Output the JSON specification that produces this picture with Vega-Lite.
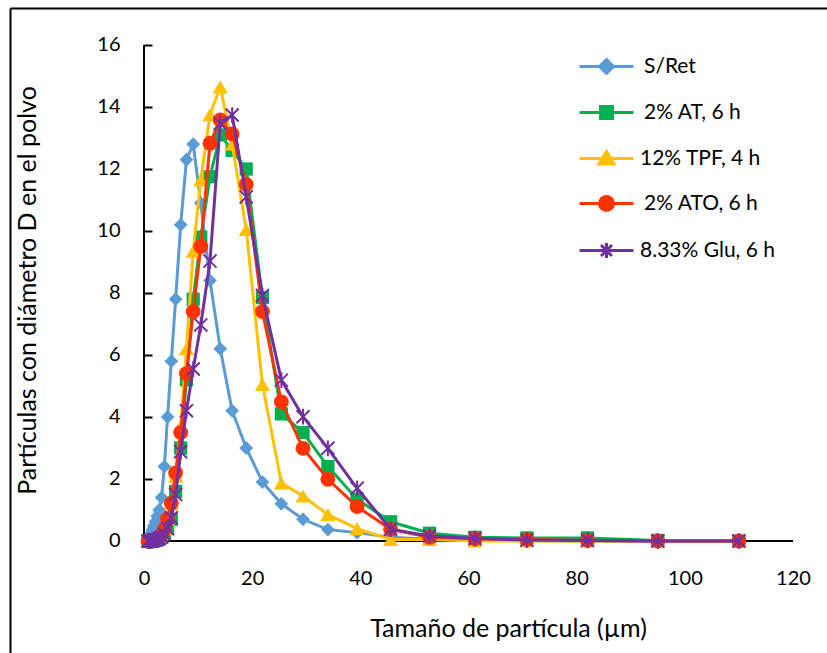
{
  "$schema": "https://vega.github.io/schema/vega-lite/v6.json",
  "width": 817,
  "height": 645,
  "autosize": {"type": "none"},
  "padding": {"left": 10, "top": 8, "right": 0, "bottom": 0},
  "background": "white",
  "config": {"view": {"stroke": null}, "font": "Lato", "axis": {"grid": false}},
  "datasets": {
    "axes": [{"x0": 0, "x1": 120, "y0": 0, "y1": 16}],
    "sret": [
      {"x": 0.75, "y": 0.02}, {"x": 0.87, "y": 0.05}, {"x": 1.0, "y": 0.1}, {"x": 1.16, "y": 0.17}, {"x": 1.35, "y": 0.26},
      {"x": 1.56, "y": 0.36}, {"x": 1.81, "y": 0.48}, {"x": 2.1, "y": 0.62}, {"x": 2.43, "y": 0.8}, {"x": 2.81, "y": 1.0},
      {"x": 3.25, "y": 1.4}, {"x": 3.77, "y": 2.4}, {"x": 4.36, "y": 4.0}, {"x": 5.05, "y": 5.8}, {"x": 5.85, "y": 7.8},
      {"x": 6.78, "y": 10.2}, {"x": 7.85, "y": 12.3}, {"x": 9.1, "y": 12.8}, {"x": 10.5, "y": 10.9}, {"x": 12.2, "y": 8.4},
      {"x": 14.1, "y": 6.2}, {"x": 16.3, "y": 4.2}, {"x": 18.9, "y": 3.0}, {"x": 21.9, "y": 1.9}, {"x": 25.4, "y": 1.2},
      {"x": 29.4, "y": 0.7}, {"x": 34.0, "y": 0.37}, {"x": 39.4, "y": 0.27}, {"x": 45.6, "y": 0.12}, {"x": 52.8, "y": 0.06},
      {"x": 61.2, "y": 0.03}, {"x": 70.8, "y": 0.01}, {"x": 82.0, "y": 0}, {"x": 95.0, "y": 0}, {"x": 110.0, "y": 0}
    ],
    "at": [
      {"x": 0.75, "y": 0}, {"x": 0.87, "y": 0}, {"x": 1.0, "y": 0}, {"x": 1.16, "y": 0}, {"x": 1.35, "y": 0},
      {"x": 1.56, "y": 0}, {"x": 1.81, "y": 0.01}, {"x": 2.1, "y": 0.02}, {"x": 2.43, "y": 0.04}, {"x": 2.81, "y": 0.07},
      {"x": 3.25, "y": 0.12}, {"x": 3.77, "y": 0.22}, {"x": 4.36, "y": 0.4}, {"x": 5.05, "y": 0.7}, {"x": 5.85, "y": 1.6},
      {"x": 6.78, "y": 3.0}, {"x": 7.85, "y": 5.2}, {"x": 9.1, "y": 7.8}, {"x": 10.5, "y": 9.8}, {"x": 12.2, "y": 11.75},
      {"x": 14.1, "y": 13.1}, {"x": 16.3, "y": 12.6}, {"x": 18.9, "y": 12.0}, {"x": 21.9, "y": 7.85}, {"x": 25.4, "y": 4.1},
      {"x": 29.4, "y": 3.5}, {"x": 34.0, "y": 2.4}, {"x": 39.4, "y": 1.35}, {"x": 45.6, "y": 0.62}, {"x": 52.8, "y": 0.25},
      {"x": 61.2, "y": 0.12}, {"x": 70.8, "y": 0.1}, {"x": 82.0, "y": 0.1}, {"x": 95.0, "y": 0.02}, {"x": 110.0, "y": 0}
    ],
    "tpf": [
      {"x": 0.75, "y": 0}, {"x": 0.87, "y": 0}, {"x": 1.0, "y": 0}, {"x": 1.16, "y": 0}, {"x": 1.35, "y": 0.01},
      {"x": 1.56, "y": 0.02}, {"x": 1.81, "y": 0.04}, {"x": 2.1, "y": 0.06}, {"x": 2.43, "y": 0.1}, {"x": 2.81, "y": 0.15},
      {"x": 3.25, "y": 0.25}, {"x": 3.77, "y": 0.4}, {"x": 4.36, "y": 0.7}, {"x": 5.05, "y": 1.2}, {"x": 5.85, "y": 2.1},
      {"x": 6.78, "y": 3.7}, {"x": 7.85, "y": 6.2}, {"x": 9.1, "y": 9.35}, {"x": 10.5, "y": 11.65}, {"x": 12.2, "y": 13.75},
      {"x": 14.1, "y": 14.65}, {"x": 16.3, "y": 12.8}, {"x": 18.9, "y": 10.05}, {"x": 21.9, "y": 5.05}, {"x": 25.4, "y": 1.87},
      {"x": 29.4, "y": 1.45}, {"x": 34.0, "y": 0.85}, {"x": 39.4, "y": 0.4}, {"x": 45.6, "y": 0.05}, {"x": 52.8, "y": 0.05},
      {"x": 61.2, "y": 0}, {"x": 70.8, "y": 0}, {"x": 82.0, "y": 0}, {"x": 95.0, "y": 0}, {"x": 110.0, "y": 0}
    ],
    "ato": [
      {"x": 0.75, "y": 0}, {"x": 0.87, "y": 0}, {"x": 1.0, "y": 0}, {"x": 1.16, "y": 0}, {"x": 1.35, "y": 0.01},
      {"x": 1.56, "y": 0.02}, {"x": 1.81, "y": 0.03}, {"x": 2.1, "y": 0.05}, {"x": 2.43, "y": 0.08}, {"x": 2.81, "y": 0.12},
      {"x": 3.25, "y": 0.2}, {"x": 3.77, "y": 0.38}, {"x": 4.36, "y": 0.72}, {"x": 5.05, "y": 1.22}, {"x": 5.85, "y": 2.2},
      {"x": 6.78, "y": 3.5}, {"x": 7.85, "y": 5.4}, {"x": 9.1, "y": 7.4}, {"x": 10.5, "y": 9.5}, {"x": 12.2, "y": 12.83},
      {"x": 14.1, "y": 13.58}, {"x": 16.3, "y": 13.13}, {"x": 18.9, "y": 11.5}, {"x": 21.9, "y": 7.4}, {"x": 25.4, "y": 4.49},
      {"x": 29.4, "y": 2.99}, {"x": 34.0, "y": 1.99}, {"x": 39.4, "y": 1.11}, {"x": 45.6, "y": 0.38}, {"x": 52.8, "y": 0.12},
      {"x": 61.2, "y": 0.07}, {"x": 70.8, "y": 0.05}, {"x": 82.0, "y": 0.02}, {"x": 95.0, "y": 0}, {"x": 110.0, "y": 0}
    ],
    "glu": [
      {"x": 0.75, "y": 0}, {"x": 0.87, "y": 0}, {"x": 1.0, "y": 0}, {"x": 1.16, "y": 0}, {"x": 1.35, "y": 0},
      {"x": 1.56, "y": 0.01}, {"x": 1.81, "y": 0.02}, {"x": 2.1, "y": 0.03}, {"x": 2.43, "y": 0.05}, {"x": 2.81, "y": 0.08},
      {"x": 3.25, "y": 0.13}, {"x": 3.77, "y": 0.22}, {"x": 4.36, "y": 0.4}, {"x": 5.05, "y": 0.75}, {"x": 5.85, "y": 1.5},
      {"x": 6.78, "y": 2.88}, {"x": 7.85, "y": 4.2}, {"x": 9.1, "y": 5.55}, {"x": 10.5, "y": 6.97}, {"x": 12.2, "y": 9.03},
      {"x": 14.1, "y": 13.47}, {"x": 16.3, "y": 13.74}, {"x": 18.9, "y": 11.1}, {"x": 21.9, "y": 7.92}, {"x": 25.4, "y": 5.19},
      {"x": 29.4, "y": 4.01}, {"x": 34.0, "y": 2.99}, {"x": 39.4, "y": 1.7}, {"x": 45.6, "y": 0.38}, {"x": 52.8, "y": 0.16},
      {"x": 61.2, "y": 0.08}, {"x": 70.8, "y": 0.03}, {"x": 82.0, "y": 0.02}, {"x": 95.0, "y": 0}, {"x": 110.0, "y": 0}
    ]
  },
  "resolve": {"axis": {"x": "independent", "y": "independent"}},
  "layer": [
    {
      "data": {"name": "axes"},
      "encoding": {
        "x": {"field": "x0", "type": "quantitative",
          "scale": {"domain": [-24.777, 126.287], "nice": false, "zero": false},
          "axis": {"orient": "top", "domain": true, "domainColor": "black", "domainWidth": 2, "ticks": false, "labels": false, "title": null, "grid": false}},
        "y": {"field": "y0", "type": "quantitative",
          "scale": {"domain": [-3.6129, 17.1935], "nice": false, "zero": false},
          "axis": {"orient": "left", "offset": 0, "domain": true, "domainColor": "black", "domainWidth": 2, "ticks": false, "labels": false, "title": null, "grid": false}}
      },
      "layer": [
        {"mark": {"type": "rule", "color": "black", "strokeWidth": 2}, "encoding": {"x2": {"field": "x1"}}},
        {"mark": {"type": "rule", "color": "black", "strokeWidth": 2}, "encoding": {"y2": {"field": "y1"}}}
      ]
    },
    {
      "encoding": {
        "x": {"field": "x", "type": "quantitative",
          "scale": {"domain": [-24.777, 126.287], "nice": false, "zero": false},
          "axis": {"orient": "bottom", "offset": -112, "values": [0, 20, 40, 60, 80, 100, 120], "domain": false, "ticks": false,
            "labelPadding": 27, "labelFontSize": 20, "labelColor": "black", "labelFlush": false, "labelOverlap": false,
            "title": "Tamaño de partícula (µm)", "titleFontSize": 25, "titleFontWeight": "normal", "titleColor": "black",
            "titleX": 498, "titleY": 87, "titleBaseline": "middle", "titleAlign": "center", "grid": false}},
        "y": {"field": "y", "type": "quantitative",
          "scale": {"domain": [-3.6129, 17.1935], "nice": false, "zero": false},
          "axis": {"orient": "left", "offset": -134, "values": [0, 2, 4, 6, 8, 10, 12, 14, 16], "domain": false, "ticks": true,
            "tickSize": -8, "tickColor": "black", "tickWidth": 2, "labelPadding": 32, "labelFontSize": 20, "labelColor": "black",
            "labelFlush": false, "labelOverlap": false,
            "title": "Partículas con diámetro D en el polvo", "titleFontSize": 25, "titleFontWeight": "normal", "titleColor": "black",
            "titleX": -117, "titleY": 282, "titleAngle": -90, "titleBaseline": "middle", "titleAlign": "center", "grid": false}}
      },
      "layer": [
        {"data": {"name": "sret"}, "mark": {"type": "line", "strokeWidth": 3},
          "encoding": {"color": {"datum": "S/Ret", "type": "nominal",
            "scale": {"domain": ["S/Ret", "2% AT, 6 h", "12% TPF, 4 h", "2% ATO, 6 h", "8.33% Glu, 6 h"],
                      "range": ["#5B9BD5", "#00B050", "#FFC000", "#FF3300", "#7030A0"]},
            "legend": {"orient": "none", "legendX": 585, "legendY": 47, "title": null, "padding": 0,
              "symbolSize": 400, "rowPadding": 20, "labelOffset": 22, "labelFontSize": 21, "labelColor": "black", "labelLimit": 300,
              "encode": {"symbols": {"update": {
                "shape": {"signal": "indexof(datum.value,'Ret')>=0 ? 'M-2.7,0H2.7M0,-0.7L0.7,0L0,0.7L-0.7,0Z' : indexof(datum.value,'ATO')>=0 ? 'M-2.7,0H2.7M-0.7,0A0.7,0.7 0 1,0 0.7,0A0.7,0.7 0 1,0 -0.7,0Z' : indexof(datum.value,'AT')>=0 ? 'M-2.7,0H2.7M-0.6,-0.6H0.6V0.6H-0.6Z' : indexof(datum.value,'TPF')>=0 ? 'M-2.7,0H2.7M0,-0.7L0.75,0.55L-0.75,0.55Z' : 'M-2.7,0H2.7M-0.55,-0.55L0.55,0.55M-0.55,0.55L0.55,-0.55M0,-0.75V0.75'"},
                "fill": [{"test": "indexof(datum.value,'Glu')>=0", "value": "transparent"}, {"scale": "color", "field": "value"}],
                "stroke": {"scale": "color", "field": "value"},
                "strokeWidth": {"value": 3},
                "size": {"value": 400},
                "opacity": {"value": 1}
              }},
              "labels": {"update": {
                "dx": {"signal": "indexof(datum.value,'12%')>=0 || indexof(datum.value,'8.33')>=0 ? 0 : 4"}
              }}}}}}},
        {"data": {"name": "sret"}, "mark": {"type": "point", "shape": "diamond", "filled": true, "size": 190, "opacity": 1},
          "encoding": {"color": {"datum": "S/Ret", "type": "nominal"}}},
        {"data": {"name": "at"}, "mark": {"type": "line", "strokeWidth": 3},
          "encoding": {"color": {"datum": "2% AT, 6 h", "type": "nominal"}}},
        {"data": {"name": "at"}, "mark": {"type": "point", "shape": "square", "filled": true, "size": 175, "opacity": 1},
          "encoding": {"color": {"datum": "2% AT, 6 h", "type": "nominal"}}},
        {"data": {"name": "tpf"}, "mark": {"type": "line", "strokeWidth": 3},
          "encoding": {"color": {"datum": "12% TPF, 4 h", "type": "nominal"}}},
        {"data": {"name": "tpf"}, "mark": {"type": "point", "shape": "triangle-up", "filled": true, "size": 230, "opacity": 1},
          "encoding": {"color": {"datum": "12% TPF, 4 h", "type": "nominal"}}},
        {"data": {"name": "ato"}, "mark": {"type": "line", "strokeWidth": 3},
          "encoding": {"color": {"datum": "2% ATO, 6 h", "type": "nominal"}}},
        {"data": {"name": "ato"}, "mark": {"type": "point", "shape": "circle", "filled": true, "size": 220, "opacity": 1},
          "encoding": {"color": {"datum": "2% ATO, 6 h", "type": "nominal"}}},
        {"data": {"name": "glu"}, "mark": {"type": "line", "strokeWidth": 3},
          "encoding": {"color": {"datum": "8.33% Glu, 6 h", "type": "nominal"}}},
        {"data": {"name": "glu"}, "mark": {"type": "point", "shape": "M-1,-1L1,1M-1,1L1,-1M0,-1.2L0,1.2", "filled": false, "size": 170, "strokeWidth": 2, "opacity": 1},
          "encoding": {"color": {"datum": "8.33% Glu, 6 h", "type": "nominal"}}}
      ]
    }
  ]
}
